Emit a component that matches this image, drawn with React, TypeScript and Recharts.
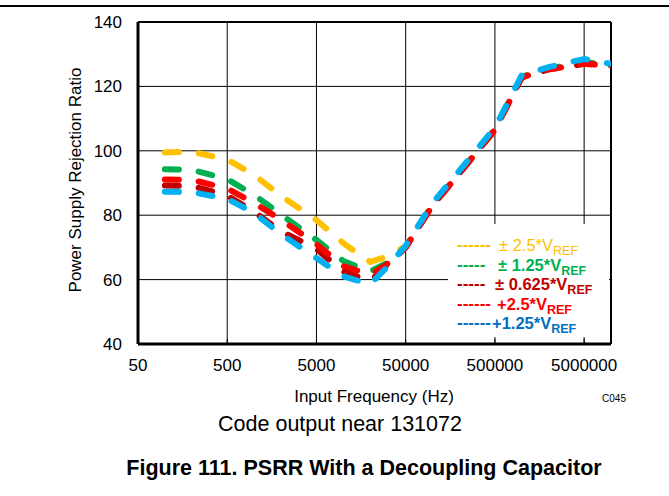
import React from 'react';
import { LineChart, Line, XAxis, YAxis, CartesianGrid, ReferenceLine } from 'recharts';

const FREQS = [100, 200, 500, 1000, 2000, 5000, 10000, 20000, 30000, 50000, 100000, 200000, 500000, 1000000, 2000000, 5000000, 10000000];
const PM_2_5 = [99.5, 99.7, 97.3, 92.5, 86.0, 78.5, 71.3, 65.5, 67.0, 70.3, 83.2, 93.1, 106.6, 123.0, 125.5, 127.5, 126.8];
const PM_1_25 = [94.3, 94.1, 91.2, 86.3, 80.2, 72.3, 65.8, 62.5, 65.0, 70.0, 83.2, 93.1, 106.6, 123.0, 125.5, 127.5, 126.5];
const PM_0_625 = [89.2, 89.1, 86.1, 81.0, 75.0, 69.5, 62.5, 59.5, 64.0, 70.0, 83.0, 93.0, 106.5, 122.8, 125.3, 127.0, 126.5];
const P_2_5 = [91.1, 91.0, 88.3, 83.8, 78.6, 71.0, 64.2, 61.5, 64.5, 70.0, 83.0, 93.0, 106.5, 122.8, 125.3, 127.0, 126.5];
const P_1_25 = [87.3, 87.2, 85.1, 80.7, 74.1, 66.7, 61.0, 58.6, 63.5, 70.5, 83.8, 93.8, 107.2, 123.5, 126.0, 128.5, 127.0];

const X_TICKS = [50, 500, 5000, 50000, 500000, 5000000];
const Y_TICKS = [40, 60, 80, 100, 120, 140];

const SERIES = [
  { key: 'pm25', name: '± 2.5*V', values: PM_2_5, color: '#FFC000', text: '#FFC000', bold: false, marker: '------' },
  { key: 'pm125', name: '± 1.25*V', values: PM_1_25, color: '#00B050', text: '#00B050', bold: true, marker: '-----' },
  { key: 'pm0625', name: '± 0.625*V', values: PM_0_625, color: '#C00000', text: '#C00000', bold: true, marker: '-----' },
  { key: 'p25', name: '+2.5*V', values: P_2_5, color: '#FF0000', text: '#FF0000', bold: true, marker: '------' },
  { key: 'p125', name: '+1.25*V', values: P_1_25, color: '#00B0F0', text: '#0070C0', bold: true, marker: '------' },
];

const data = FREQS.map((f, i) => {
  const row: any = { f };
  SERIES.forEach((s) => { row[s.key] = s.values[i]; });
  return row;
});

const FONT = '"Liberation Sans", Arial, sans-serif';

const XTick = (props: any) => {
  const { x, y, payload } = props;
  return (
    <g>
      <line x1={x} x2={x} y1={y} y2={y - 5} stroke="#000" strokeWidth={1} />
      <text x={x} y={y + 27} textAnchor="middle" fontSize={17} fill="#000" fontFamily={FONT}>{payload.value}</text>
    </g>
  );
};

const YTick = (props: any) => {
  const { x, y, payload } = props;
  return (
    <text x={x - 16} y={y + 6} textAnchor="end" fontSize={17} fill="#000" fontFamily={FONT}>{payload.value}</text>
  );
};

const legendTops = [235, 254.5, 274, 293.5, 313];
const textLefts = [499, 498, 495, 497, 492];

export default function App() {
  return (
    <div style={{ position: 'absolute', left: 0, top: 0, width: 669, height: 496, background: '#fff', fontFamily: FONT, overflow: 'hidden' }}>
      <LineChart width={669} height={496} data={data} margin={{ top: 22, right: 58, bottom: 122, left: 0 }}>
        <CartesianGrid stroke="#000" strokeWidth={1} />
        <XAxis dataKey="f" type="number" scale="log" domain={[50, 10000000]} ticks={X_TICKS} allowDataOverflow
          height={30} tickSize={0} tickMargin={0} tickLine={false} axisLine={{ stroke: '#000', strokeWidth: 3 }} tick={<XTick />} interval={0} />
        <YAxis type="number" domain={[40, 140]} ticks={Y_TICKS} width={138} tickSize={0} tickMargin={0} tickLine={false}
          axisLine={{ stroke: '#000', strokeWidth: 3 }} tick={<YTick />} interval={0} />
        <ReferenceLine y={140} stroke="#000" strokeWidth={2} />
        <ReferenceLine x={10000000} stroke="#000" strokeWidth={2} />
        {SERIES.map((s) => (
          <Line key={s.key} dataKey={s.key} type="linear" stroke={s.color} strokeWidth={6} strokeDasharray="14 20"
            strokeLinecap="round" dot={false} activeDot={false} isAnimationActive={false} />
        ))}
      </LineChart>

      <div style={{ position: 'absolute', left: 0, top: 5, width: 669, height: 2, background: '#000' }} />

      <div style={{ position: 'absolute', left: 76, top: 180, transform: 'translate(-50%, -50%) rotate(-90deg)', whiteSpace: 'nowrap', fontSize: 17, color: '#000' }}>
        Power Supply Rejection Ratio
      </div>

      <div style={{ position: 'absolute', left: 374, top: 397, transform: 'translate(-50%, -50%)', whiteSpace: 'nowrap', fontSize: 17, color: '#000' }}>
        Input Frequency (Hz)
      </div>
      <div style={{ position: 'absolute', left: 614, top: 398, transform: 'translate(-50%, -50%)', whiteSpace: 'nowrap', fontSize: 10, color: '#000' }}>
        C045
      </div>
      <div style={{ position: 'absolute', left: 340, top: 424, transform: 'translate(-50%, -50%)', whiteSpace: 'nowrap', fontSize: 21.5, color: '#000' }}>
        Code output near 131072
      </div>
      <div style={{ position: 'absolute', left: 364, top: 468, transform: 'translate(-50%, -50%)', whiteSpace: 'nowrap', fontSize: 21.5, fontWeight: 700, color: '#000' }}>
        Figure 111. PSRR With a Decoupling Capacitor
      </div>

      <div style={{ position: 'absolute', left: 448, top: 224, width: 161, height: 113, background: '#fff' }} />
      {SERIES.map((s, i) => (
        <React.Fragment key={s.key}>
          <div style={{ position: 'absolute', left: 457, top: legendTops[i], fontSize: 17, fontWeight: 700, color: s.color === '#00B0F0' ? s.text : s.color, whiteSpace: 'nowrap', lineHeight: '20px' }}>
            {s.marker}
          </div>
          <div style={{ position: 'absolute', left: textLefts[i], top: legendTops[i], fontSize: 16.5, fontWeight: s.bold ? 700 : 400, color: s.text, whiteSpace: 'nowrap', lineHeight: '20px' }}>
            {s.name}<sub style={{ fontSize: 12.5, verticalAlign: '-4px', lineHeight: 0 }}>REF</sub>
          </div>
        </React.Fragment>
      ))}
    </div>
  );
}
